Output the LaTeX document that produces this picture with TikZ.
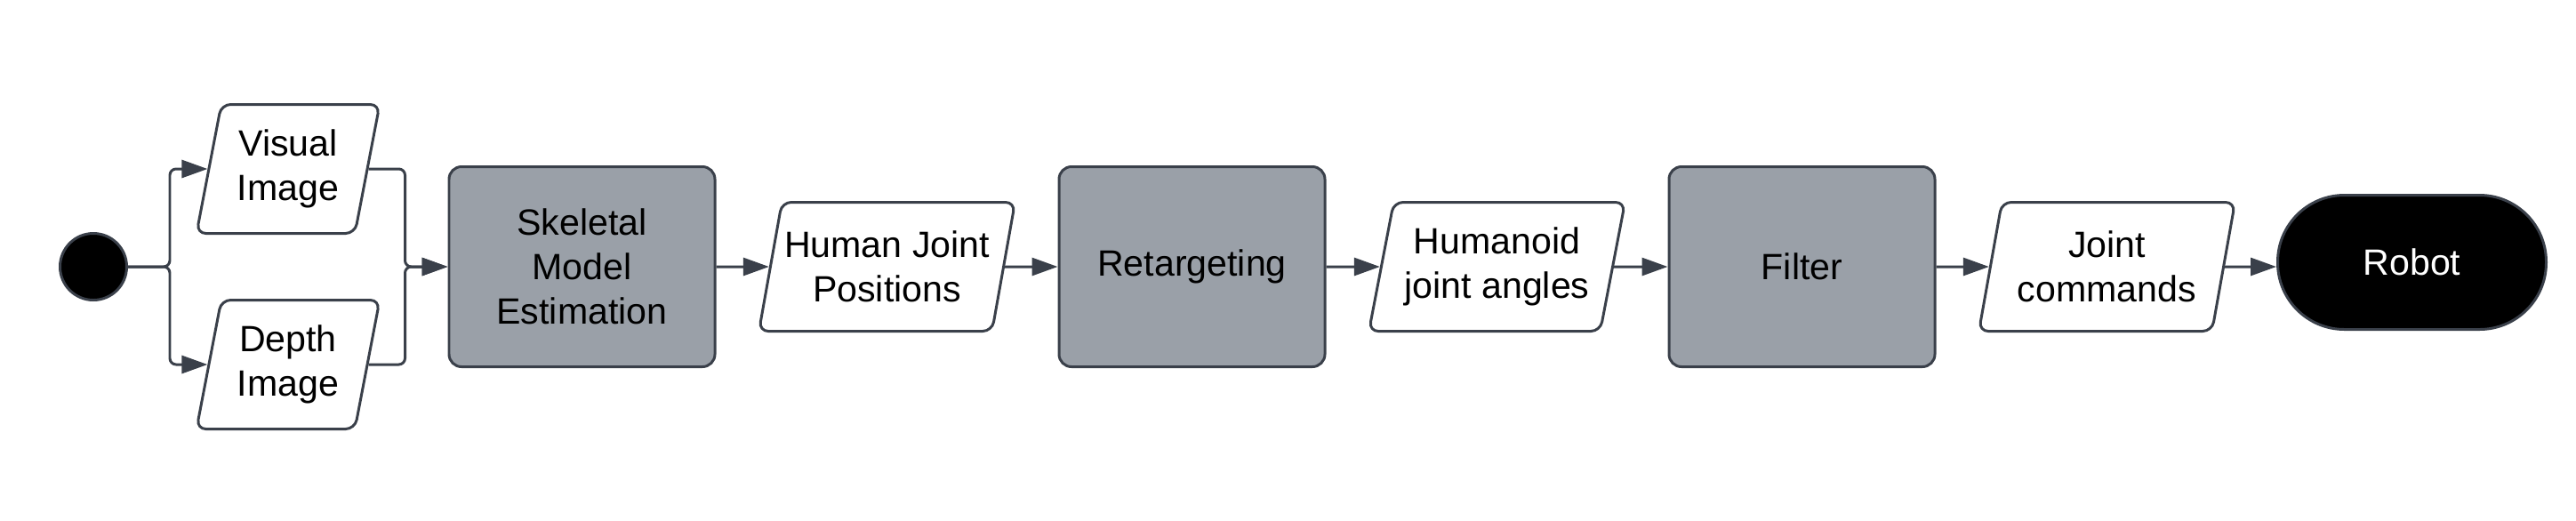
\documentclass[tikz,border=0pt]{standalone}
\usepackage{fontspec}
\setmainfont{Liberation Sans}
\usetikzlibrary{shapes.geometric, arrows.meta, positioning}

\definecolor{flowline}{HTML}{3A404A}
\definecolor{flowgray}{HTML}{9AA0A8}

\tikzset{
	flowpicture/.style = {
		auto,
		node distance = 3.43cm,
		font = \fontsize{11.7}{14.2}\selectfont,
		arrow/.style = {
			draw = flowline,
			line width = 0.85pt,
			rounded corners = 2pt,
			-{Triangle[length = 2.9mm, width = 2mm]},
		}
	},
	startnode/.style = {
		circle,
		draw = flowline,
		fill = black,
		line width = 0.85pt,
		minimum size = 7.5mm,
		inner sep = 0pt
	},
	datanode/.style = {
		trapezium,
		trapezium left angle = 76,
		trapezium right angle = 104,
		trapezium stretches body,
		draw = flowline,
		line width = 0.85pt,
		rounded corners = 3pt,
		align = center,
		inner xsep = 0pt,
		minimum width = 2.88cm,
		minimum height = 1.45cm
	},
	procnode/.style = {
		rectangle,
		draw = flowline,
		fill = flowgray,
		line width = 0.85pt,
		rounded corners = 4pt,
		align = center,
		minimum width = 2.99cm,
		minimum height = 2.25cm
	},
	endnode/.style = {
		rectangle,
		draw = flowline,
		fill = black,
		text = white,
		line width = 0.85pt,
		rounded corners = 7.5mm,
		minimum width = 3.02cm,
		minimum height = 1.51cm
	}
}

\begin{document}
\begin{tikzpicture}[flowpicture]
	\useasboundingbox (0,0) rectangle (28.97,-5.85);

	\node[startnode] (start) at (1.05,-3.00) {};
	\node[datanode, minimum width = 2.06cm] (vis) at (3.24,-1.90) {Visual\\Image};
	\node[datanode, minimum width = 2.06cm] (dep) at (3.24,-4.10) {Depth\\Image};

	\node[procnode] (skel) at (6.545,-3.00) {Skeletal\\Model\\Estimation};
	\node[datanode, right of = skel] (hjp) {Human Joint\\Positions};
	\node[procnode, right of = hjp] (ret) {Retargeting};
	\node[datanode, right of = ret] (hum) {Humanoid\\joint angles};
	\node[procnode, right of = hum] (filt) {Filter};
	\node[datanode, right of = filt] (jc) {Joint\\commands};
	\node[endnode, right of = jc, yshift = 0.05cm] (robot) {Robot};

	\coordinate[right = 4.7mm of start.east] (fork);
	\coordinate[left = 4.8mm of skel.west] (merge);

	\begin{scope}[every path/.style = arrow]
		\path (start) -- (fork) |- (vis);
		\path (start) -- (fork) |- (dep);
		\path (vis) -| (merge) -- (skel);
		\path (dep) -| (merge) -- (skel);

		\path (skel) -- (hjp);
		\path (hjp) -- (ret);
		\path (ret) -- (hum);
		\path (hum) -- (filt);
		\path (filt) -- (jc);
		\path (jc) -- (jc -| robot.west);
	\end{scope}
\end{tikzpicture}
\end{document}
